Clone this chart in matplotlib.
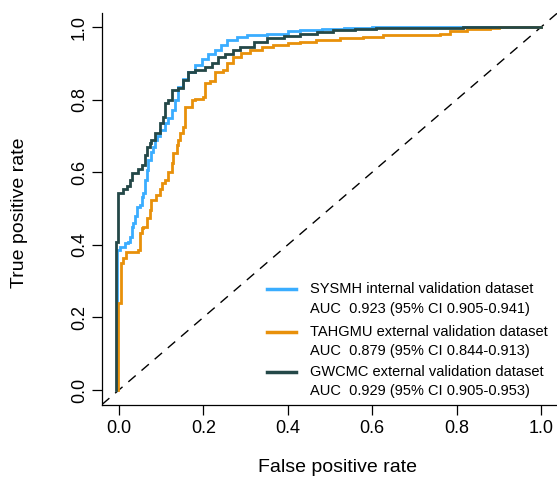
import matplotlib
matplotlib.use("Agg")
import matplotlib.pyplot as plt
from matplotlib.lines import Line2D

plt.rcParams['font.family'] = ['Liberation Sans', 'DejaVu Sans']

# ---- data ----
sysmh_fpr = [-0.004, -0.004, 0.002, 0.014, 0.022, 0.026, 0.030, 0.034, 0.038, 0.042, 0.050, 0.054, 0.058,
             0.062, 0.066, 0.069, 0.075, 0.081, 0.085, 0.091, 0.097, 0.109, 0.117, 0.125, 0.133, 0.141,
             0.152, 0.164, 0.180, 0.196, 0.212, 0.227, 0.241, 0.255, 0.280, 0.303, 0.350, 0.400, 0.429,
             0.480, 0.532, 0.600, 1.000]
sysmh_tpr = [0.000, 0.386, 0.395, 0.404, 0.409, 0.422, 0.450, 0.459, 0.480, 0.505, 0.510, 0.533, 0.542,
             0.579, 0.605, 0.634, 0.655, 0.670, 0.689, 0.700, 0.716, 0.735, 0.750, 0.771, 0.799, 0.836,
             0.858, 0.877, 0.895, 0.913, 0.927, 0.937, 0.950, 0.964, 0.972, 0.978, 0.982, 0.988, 0.992,
             0.995, 0.998, 1.000, 1.000]

tahgmu_fpr = [-0.002, -0.002, 0.004, 0.010, 0.018, 0.046, 0.050, 0.054, 0.058, 0.066, 0.073, 0.077, 0.089,
              0.097, 0.101, 0.109, 0.117, 0.125, 0.128, 0.137, 0.141, 0.145, 0.152, 0.156, 0.172, 0.180,
              0.200, 0.204, 0.216, 0.227, 0.247, 0.255, 0.271, 0.290, 0.310, 0.340, 0.366, 0.400, 0.429,
              0.468, 0.524, 0.579, 0.626, 0.761, 0.784, 0.824, 0.879, 0.900, 1.000]
tahgmu_tpr = [0.000, 0.239, 0.349, 0.363, 0.381, 0.386, 0.432, 0.445, 0.450, 0.473, 0.496, 0.523, 0.537,
              0.555, 0.569, 0.579, 0.601, 0.625, 0.652, 0.675, 0.689, 0.707, 0.725, 0.780, 0.799, 0.803,
              0.808, 0.845, 0.850, 0.877, 0.882, 0.900, 0.918, 0.928, 0.937, 0.944, 0.950, 0.955, 0.960,
              0.964, 0.969, 0.973, 0.978, 0.982, 0.989, 0.994, 0.996, 1.000, 1.000]

gwcmc_fpr = [-0.006, -0.006, -0.002, 0.009, 0.020, 0.026, 0.030, 0.046, 0.055, 0.062, 0.066, 0.073, 0.077,
             0.085, 0.097, 0.105, 0.109, 0.117, 0.125, 0.141, 0.152, 0.164, 0.180, 0.204, 0.220, 0.235,
             0.251, 0.270, 0.287, 0.320, 0.350, 0.390, 0.429, 0.470, 0.507, 0.560, 0.610, 0.700, 0.815, 1.000]
gwcmc_tpr = [0.000, 0.408, 0.542, 0.555, 0.562, 0.579, 0.597, 0.610, 0.620, 0.647, 0.670, 0.680, 0.689,
             0.707, 0.735, 0.753, 0.790, 0.799, 0.826, 0.831, 0.854, 0.877, 0.882, 0.890, 0.900, 0.918,
             0.927, 0.937, 0.946, 0.958, 0.969, 0.976, 0.982, 0.987, 0.992, 0.994, 0.996, 0.998, 1.000, 1.000]

series_names = ["SYSMH internal validation dataset",
                "TAHGMU external validation dataset",
                "GWCMC external validation dataset"]
auc_labels = ["AUC  0.923 (95% CI 0.905-0.941)",
              "AUC  0.879 (95% CI 0.844-0.913)",
              "AUC  0.929 (95% CI 0.905-0.953)"]
colors = ["#3AADFF", "#E8900A", "#244848"]
tick_vals = [0.0, 0.2, 0.4, 0.6, 0.8, 1.0]
tick_labels = ["0.0", "0.2", "0.4", "0.6", "0.8", "1.0"]

W, H = 557, 480
fig = plt.figure(figsize=(W / 100, H / 100), dpi=100)
ax = fig.add_axes([102 / W, (H - 404.5) / H, 456 / W, 392 / H])

curves = [(sysmh_fpr, sysmh_tpr), (tahgmu_fpr, tahgmu_tpr), (gwcmc_fpr, gwcmc_tpr)]
for (fx, ty), c in zip(curves, colors):
    ax.plot(fx, ty, drawstyle='steps-post', color=c, lw=2.0, solid_joinstyle='miter', zorder=3)

ax.axline((0, 0), (1, 1), color='black', lw=1.0, dashes=(7, 5.5), zorder=2)

ax.set_xlim(-0.04, 1.04)
ax.set_ylim(-0.04, 1.04)
ax.set_xticks(tick_vals)
ax.set_xticklabels(tick_labels)
ax.set_yticks(tick_vals)
ax.set_yticklabels(tick_labels, rotation=90, va='center')
ax.tick_params(axis='both', direction='out', length=7.5, width=0.9, labelsize=13, color='black')
ax.tick_params(axis='x', pad=3.5)
ax.tick_params(axis='y', pad=2.5)
for s in ['top', 'right']:
    ax.spines[s].set_visible(False)
for s in ['left', 'bottom']:
    ax.spines[s].set_linewidth(0.9)
ax.set_xlabel("False positive rate", fontsize=14, labelpad=16)
ax.set_ylabel("True positive rate", fontsize=14, labelpad=31)
ax.xaxis.label.set_x(0.5175)
ax.yaxis.label.set_y(0.4885)

# legend (handle aligned with the first text line, as in the reference)
first_line_y = [289, 332, 371.5]
for i in range(3):
    yy = 1 - first_line_y[i] / H
    fig.add_artist(Line2D([267 / W, 296 / W], [yy, yy], transform=fig.transFigure,
                          color=colors[i], lw=2.5))
    fig.text(310 / W, yy, series_names[i], fontsize=10.5, va='center', ha='left')
    fig.text(310 / W, 1 - (first_line_y[i] + 19.5) / H, auc_labels[i], fontsize=10.5,
             va='center', ha='left')

fig.savefig("out.png", dpi=100)
